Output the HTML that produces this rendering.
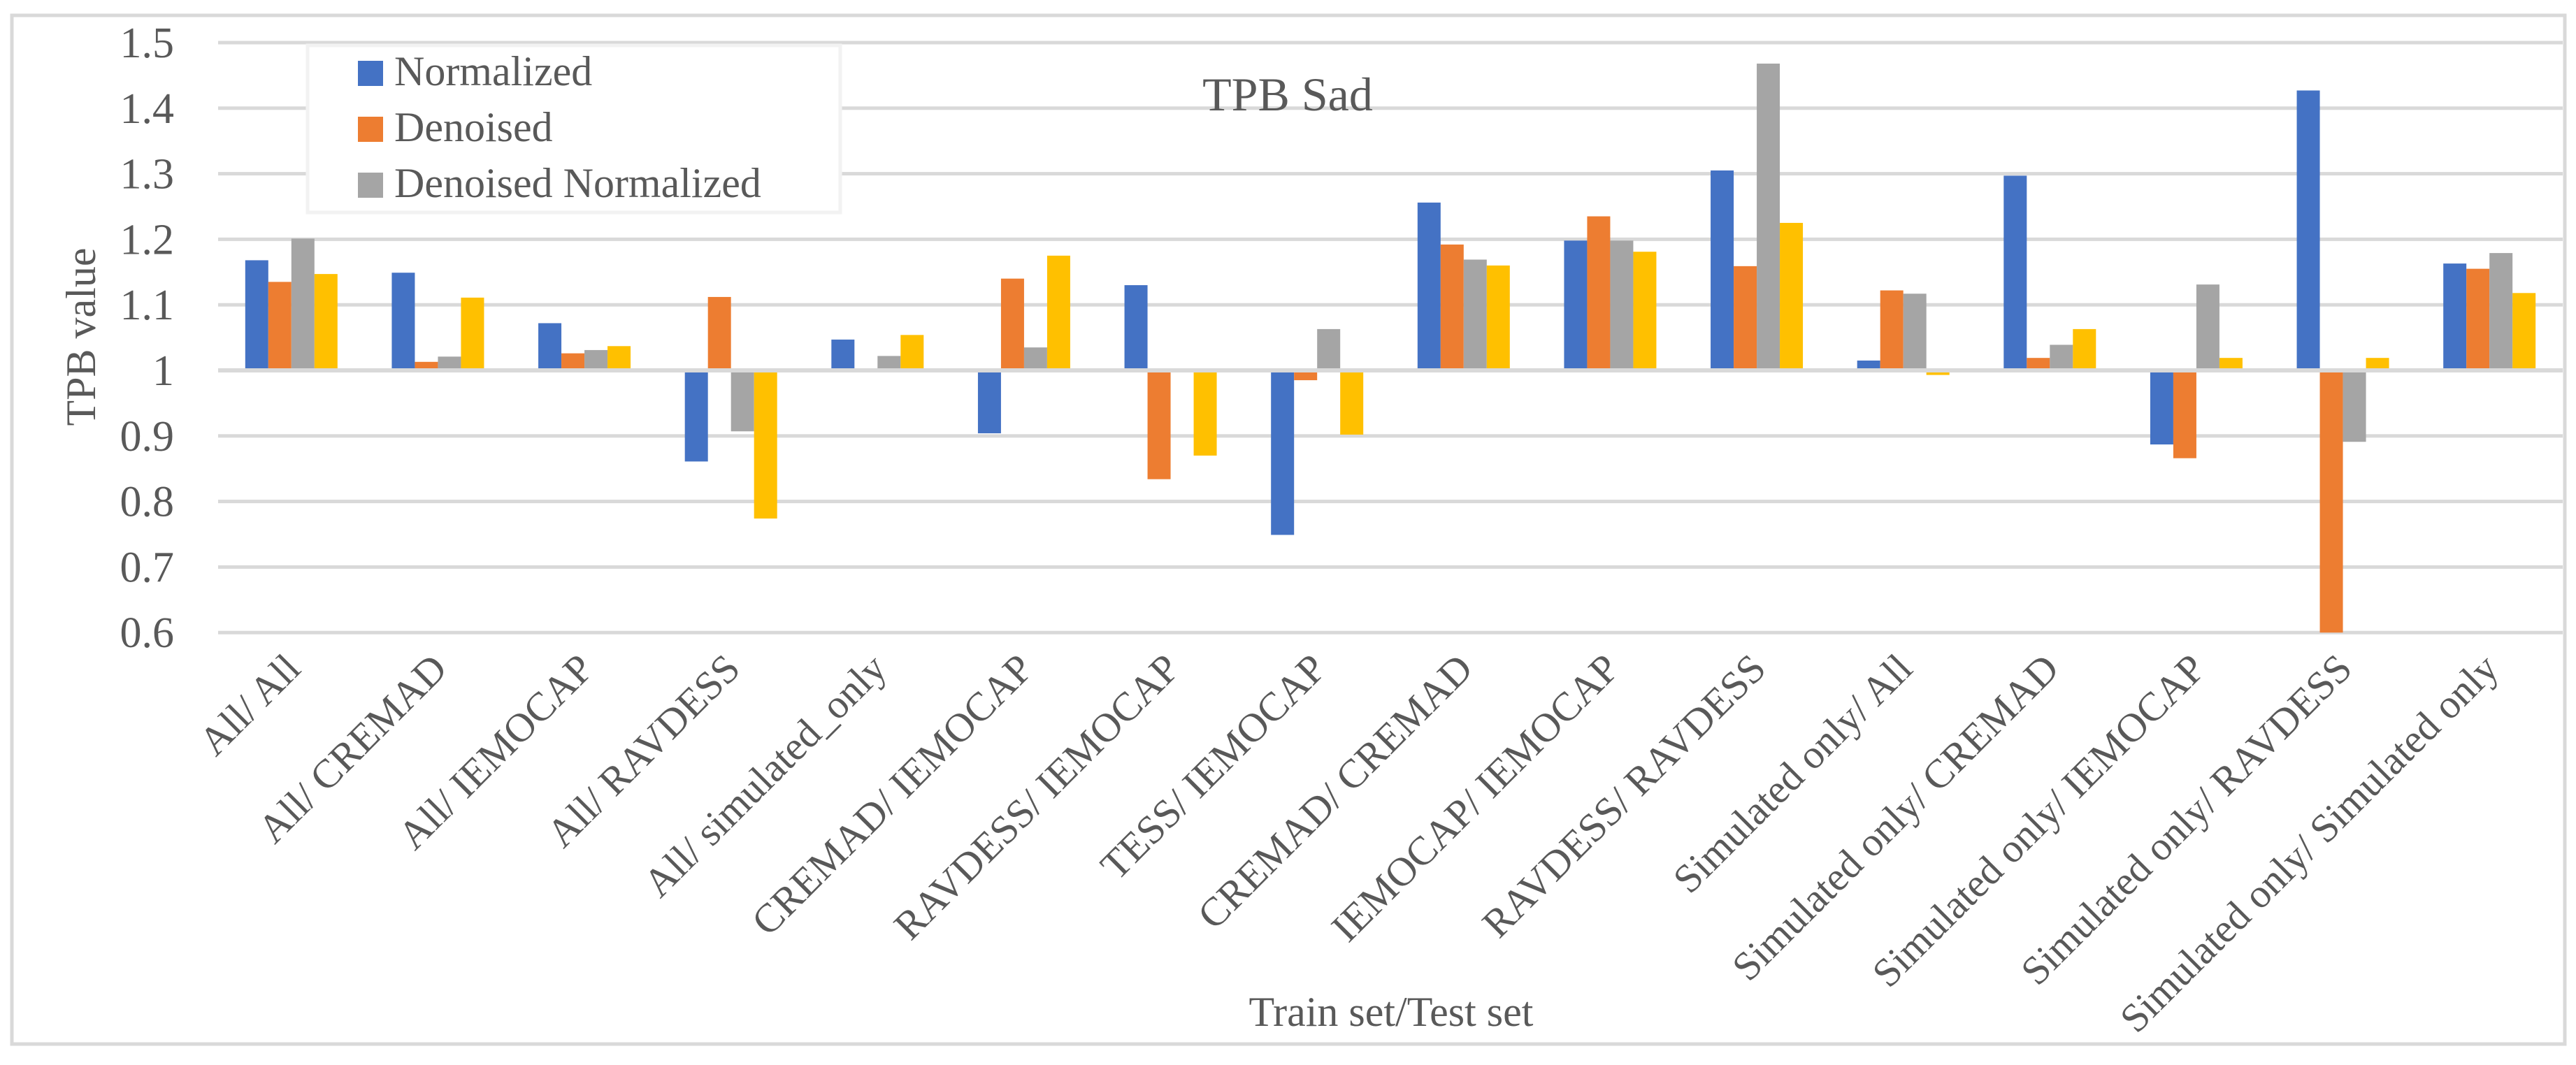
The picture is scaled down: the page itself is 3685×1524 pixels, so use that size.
<!DOCTYPE html>
<html><head><meta charset="utf-8"><style>
html,body{margin:0;padding:0;background:#fff;}
svg text{font-family:"Liberation Serif",serif;fill:#595959;}
</style></head><body>
<svg id="chart" width="3685" height="1519" viewBox="0 0 3685 1519" xmlns="http://www.w3.org/2000/svg" font-family="Liberation Serif, serif">
<rect x="17" y="22" width="3652" height="1472" fill="#fff" stroke="#d9d9d9" stroke-width="5"/>
<g id="grid"></g><g id="bars"></g><g id="zero"></g><g id="labels"></g>
<text x="1842" y="158" font-size="68" text-anchor="middle">TPB Sad</text>
<text transform="translate(136,482) rotate(-90)" font-size="60" text-anchor="middle">TPB value</text>
<text x="1990" y="1468" font-size="60" text-anchor="middle">Train set/Test set</text>
<g>
<rect x="440" y="65" width="762" height="239" fill="#fff" stroke="#f2f2f2" stroke-width="5"/>
<rect x="512" y="87" width="36" height="36" fill="#4472c4"/>
<text x="564" y="122" font-size="60">Normalized</text>
<rect x="512" y="167" width="36" height="36" fill="#ed7d31"/>
<text x="564" y="202" font-size="60">Denoised</text>
<rect x="512" y="247" width="36" height="36" fill="#a5a5a5"/>
<text x="564" y="282" font-size="60">Denoised Normalized</text>
</g>
</svg>
<script>
const categories=["All/ All","All/ CREMAD","All/ IEMOCAP","All/ RAVDESS","All/ simulated_only","CREMAD/ IEMOCAP","RAVDESS/ IEMOCAP","TESS/ IEMOCAP","CREMAD/ CREMAD","IEMOCAP/ IEMOCAP","RAVDESS/ RAVDESS","Simulated only/ All","Simulated only/ CREMAD","Simulated only/ IEMOCAP","Simulated only/ RAVDESS","Simulated only/ Simulated only"];
const normalized=[1.168,1.149,1.072,0.861,1.047,0.904,1.130,0.749,1.256,1.198,1.305,1.015,1.297,0.887,1.427,1.163];
const denoised=[1.135,1.013,1.026,1.112,1.001,1.140,0.834,0.985,1.192,1.235,1.159,1.122,1.019,0.866,0.6,1.155];
const denoisedNormalized=[1.201,1.021,1.031,0.907,1.022,1.035,0.999,1.063,1.169,1.198,1.468,1.117,1.039,1.131,0.891,1.179];
const fourth=[1.147,1.111,1.037,0.774,1.054,1.175,0.870,0.902,1.160,1.181,1.225,0.993,1.063,1.019,1.019,1.118];
const yTicks=[0.6,0.7,0.8,0.9,1,1.1,1.2,1.3,1.4,1.5];
const NS="http://www.w3.org/2000/svg";
const X0=312,X1=3666,Y1=530,PER=938;
function y(v){return Y1-(v-1)*PER;}
const band=(X1-X0)/categories.length;
function xc(i){return X0+band*(i+0.5);}
function mk(tag,attrs,parent){const e=document.createElementNS(NS,tag);for(const k in attrs)e.setAttribute(k,attrs[k]);parent.appendChild(e);return e;}
const grid=document.getElementById('grid'),bars=document.getElementById('bars'),labels=document.getElementById('labels'),zero=document.getElementById('zero');
yTicks.forEach(t=>{
  const l=mk('rect',{x:X0,y:y(t)-2.5,width:X1-X0,height:5,fill:'#d9d9d9'},grid);
  
  
  const tx=mk('text',{x:249,y:y(t)+21,'font-size':62,'text-anchor':'end','font-family':'Liberation Serif, serif'},labels);
  tx.textContent=String(t);
  
  
});
const series=[[normalized,'#4472c4','normalized'],[denoised,'#ed7d31','denoised'],[denoisedNormalized,'#a5a5a5','denoised-normalized'],[fourth,'#ffc000','series4']];
const bw=33;
categories.forEach((c,i)=>{
  series.forEach((s,j)=>{
    const v=Math.max(s[0][i],0.6);
    const bx=xc(i)-2*bw+j*bw;
    let top=Math.min(y(v),y(1)), h=Math.abs(y(v)-y(1));
    const r=mk('rect',{x:bx,y:top,width:bw,height:h,fill:s[1]},bars);
    
    
  });
  const t=mk('text',{transform:`translate(${xc(i)+16},960) rotate(-45)`,'font-size':58,'text-anchor':'end','font-family':'Liberation Serif, serif'},labels);
  t.textContent=c;
  
  
});
const zl=mk('rect',{x:X0,y:y(1)-3,width:X1-X0,height:6,fill:'#d9d9d9'},zero);


</script>
</body></html>
